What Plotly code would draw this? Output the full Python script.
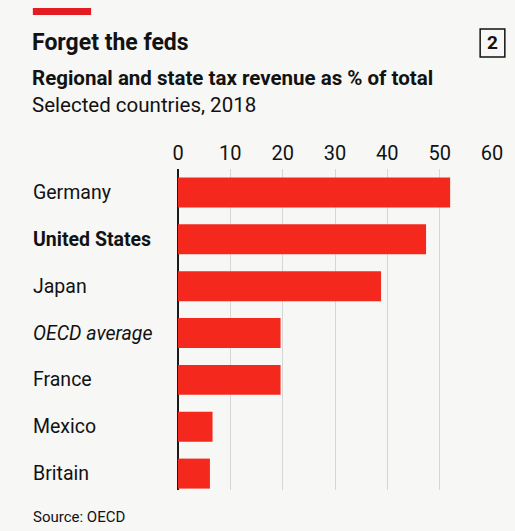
import plotly.graph_objects as go

categories = ["Germany", "United States", "Japan", "OECD average", "France", "Mexico", "Britain"]
values = [52.0, 47.4, 38.8, 19.6, 19.6, 6.6, 6.1]
label_styles = ["normal", "bold", "normal", "italic", "normal", "normal", "normal"]
tick_vals = [0, 10, 20, 30, 40, 50, 60]

W, H = 515, 531
L, R, T, B = 178, 496, 169, 490
FONT = "Roboto, sans-serif"
BG = "#f7f7f5"
BAR = "#f4281c"
TXT = "#121212"

def px(x):
    return (x - L) / (R - L)

def py(y):
    return (B - y) / (B - T)

fig = go.Figure(go.Bar(
    x=values, y=categories, orientation="h",
    marker=dict(color=BAR, line=dict(width=0)),
    hoverinfo="skip",
))

annotations = []
for cat, st in zip(categories, label_styles):
    txt = cat
    if st == "bold":
        txt = "<b>" + cat + "</b>"
    elif st == "italic":
        txt = "<i>" + cat + "</i>"
    annotations.append(dict(
        x=px(29), xref="paper", y=cat, yref="y", text=txt, showarrow=False,
        xanchor="left", yanchor="middle", font=dict(family=FONT, size=19.5, color=TXT),
    ))

annotations += [
    dict(x=px(28), y=py(43), xref="paper", yref="paper", text="<b>Forget the feds</b>",
         showarrow=False, xanchor="left", yanchor="middle",
         font=dict(family=FONT, size=23, color=TXT)),
    dict(x=px(28), y=py(78), xref="paper", yref="paper",
         text="<b>Regional and state tax revenue as % of total</b>",
         showarrow=False, xanchor="left", yanchor="middle",
         font=dict(family=FONT, size=20.5, color=TXT)),
    dict(x=px(28), y=py(105), xref="paper", yref="paper", text="Selected countries, 2018",
         showarrow=False, xanchor="left", yanchor="middle",
         font=dict(family=FONT, size=20.5, color=TXT)),
    dict(x=px(29), y=py(517), xref="paper", yref="paper", text="Source: OECD",
         showarrow=False, xanchor="left", yanchor="middle",
         font=dict(family=FONT, size=15, color=TXT)),
    dict(x=px(496.5), y=py(42.5), xref="paper", yref="paper", text="<b>2</b>",
         showarrow=False, xanchor="center", yanchor="middle",
         font=dict(family=FONT, size=19, color=TXT)),
]

shapes = [
    dict(type="rect", xref="paper", yref="paper", x0=px(31), x1=px(90), y0=py(8), y1=py(15),
         fillcolor="#e31b23", line=dict(width=0), layer="above"),
    dict(type="rect", xref="paper", yref="paper", x0=px(484), x1=px(509), y0=py(29), y1=py(57),
         fillcolor="rgba(0,0,0,0)", line=dict(width=1.5, color=TXT), layer="above"),
]

fig.update_layout(
    width=W, height=H,
    margin=dict(l=L, r=W - R, t=T, b=H - B, pad=0),
    paper_bgcolor=BG, plot_bgcolor=BG,
    showlegend=False,
    bargap=0.36,
    annotations=annotations,
    shapes=shapes,
    xaxis=dict(
        range=[0, 60], side="top", tickvals=tick_vals, ticktext=[str(v) for v in tick_vals],
        showgrid=True, gridcolor="#d6d6d6", gridwidth=1,
        zeroline=True, zerolinecolor="#1a1a1a", zerolinewidth=2,
        showline=False, ticks="", ticklabelstandoff=4,
        tickfont=dict(family=FONT, size=20, color=TXT), fixedrange=True,
    ),
    yaxis=dict(
        categoryorder="array", categoryarray=categories,
        range=[6.35, -0.5], showticklabels=False, showgrid=False, zeroline=False,
        ticks="", fixedrange=True,
    ),
)

fig.write_html("out.html")
